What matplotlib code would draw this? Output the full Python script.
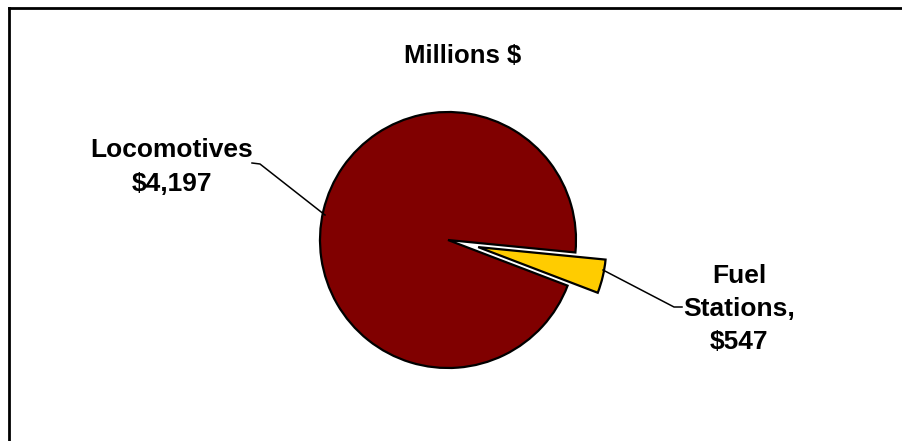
import matplotlib
matplotlib.use("Agg")
import matplotlib.pyplot as plt
from matplotlib.lines import Line2D

# Data
categories = ["Locomotives", "Fuel Stations"]
amount_labels = ["Locomotives\n$4,197", "Fuel\nStations,\n$547"]
shares = [95.75, 4.25]          # slice shares as drawn in the picture (%)
colors = ["#800000", "#FFCC00"]
title = "Millions $"

W, H = 903, 441
fig = plt.figure(figsize=(W / 100, H / 100), dpi=100)
ax = fig.add_axes([0, 0, 1, 1])

def py(y):
    return H - y

wedges, _ = ax.pie(shares, startangle=-5.6, counterclock=True,
                   explode=[0, 31], center=(448, py(240)), radius=128,
                   colors=colors,
                   wedgeprops=dict(edgecolor="black", linewidth=1.6))
ax.set_xlim(0, W)
ax.set_ylim(0, H)
ax.set_aspect("equal")
ax.axis("off")

font = dict(family="Liberation Sans", fontweight="bold", color="black")

ax.text(463, py(56), title, ha="center", va="center", fontsize=18.5, **font)

ax.text(172, py(167), amount_labels[0], ha="center", va="center",
        fontsize=19, linespacing=1.5, **font)
ax.text(739, py(309), amount_labels[1], ha="center", va="center",
        fontsize=19, linespacing=1.46, **font)

# leader lines
ax.plot([252, 260, 325], [py(163), py(164), py(215)], color="black", lw=1.1)
ax.plot([603, 674, 682], [py(270), py(307), py(307)], color="black", lw=1.1)

# chart border (top and left visible)
fig.add_artist(Line2D([9 / W, 1], [1 - 8 / H, 1 - 8 / H], transform=fig.transFigure,
                      color="black", lw=2))
fig.add_artist(Line2D([9 / W, 9 / W], [0, 1 - 8 / H], transform=fig.transFigure,
                      color="black", lw=2))

fig.savefig("out.png", dpi=100)
